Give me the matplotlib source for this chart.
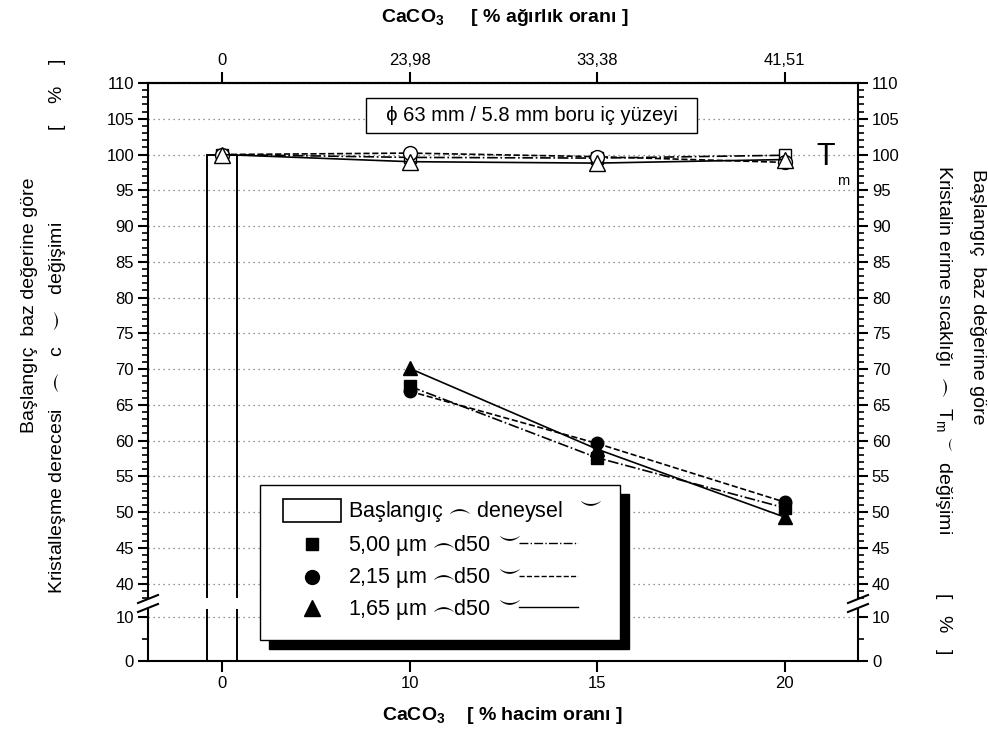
import numpy as np
import matplotlib
matplotlib.use('Agg')
from matplotlib import pyplot as plt
from matplotlib.lines import Line2D
from matplotlib.patches import Rectangle

plt.rcParams['font.family'] = ['Liberation Sans', 'DejaVu Sans']
plt.rcParams['mathtext.fontset'] = 'custom'
plt.rcParams['mathtext.rm'] = 'Liberation Sans'
plt.rcParams['mathtext.it'] = 'Liberation Sans'
plt.rcParams['mathtext.bf'] = 'Liberation Sans:bold'
plt.rcParams['mathtext.fallback'] = 'stix'

# data
vol_labels = ['0', '10', '15', '20']            # % hacim orani
wt_labels = ['0', '23,98', '33,38', '41,51']    # % agirlik orani
pos = np.arange(len(vol_labels))

# melting temperature change (open markers)
tm_500 = [100.0, 99.6, 99.5, 99.9]
tm_215 = [100.0, 100.2, 99.7, 98.9]
tm_165 = [100.0, 99.0, 98.8, 99.3]

# crystallinity change (filled markers), at 10, 15, 20
xc_500 = [67.6, 57.6, 50.6]
xc_215 = [66.9, 59.6, 51.4]
xc_165 = [70.1, 58.8, 49.3]

base_value = 100.0

W, H = 988, 742
FR = '$⌢$'   # frown/smile signs as drawn in the original
SM = '$⌣$'


def fx(x):
    return x / W


def fy(y):
    return 1 - y / H


fig = plt.figure(figsize=(W / 100, H / 100), dpi=100)
ax_hi = fig.add_axes([fx(148), fy(598), 710 / W, 515 / H])
ax_lo = fig.add_axes([fx(148), fy(661), 710 / W, 52 / H])

grid_kw = dict(color='0.45', linestyle=(0, (1, 3)), linewidth=0.9)
for ax in (ax_hi, ax_lo):
    ax.bar(0, base_value, width=0.16, fill=False, edgecolor='black', linewidth=1.4, zorder=2)
    ax.set_xlim(-0.395, 3.39)
    for s in ax.spines.values():
        s.set_linewidth(1.5)
    ax.tick_params(axis='y', which='both', direction='out', left=True, right=True,
                   labelleft=True, labelright=True, labelsize=12, width=1.5, pad=3)
    ax.tick_params(axis='y', which='major', length=7)
    ax.tick_params(axis='y', which='minor', length=4, width=1.2)
    ax.yaxis.grid(True, which='major', **grid_kw)
    ax.set_axisbelow(True)

# upper part
ax_hi.set_ylim(38, 110)
ax_hi.set_yticks(np.arange(40, 111, 5))
ax_hi.set_yticks(np.arange(38, 111, 1), minor=True)
ax_hi.spines['bottom'].set_visible(False)
ax_hi.tick_params(axis='x', which='both', bottom=False, labelbottom=False, top=False)

lw = 1.2
ax_hi.plot(pos, tm_500, '-.', color='black', lw=lw, marker='s', ms=9, mfc='white', mec='black', zorder=3)
ax_hi.plot(pos, tm_215, '--', color='black', lw=lw, marker='o', ms=10, mfc='white', mec='black', zorder=3)
ax_hi.plot(pos, tm_165, '-', color='black', lw=lw, marker='^', ms=11, mfc='white', mec='black', zorder=4)

ax_hi.plot(pos[1:], xc_500, '-.', color='black', lw=lw, marker='s', ms=8, mfc='black', mec='black', zorder=3)
ax_hi.plot(pos[1:], xc_215, '--', color='black', lw=lw, marker='o', ms=9, mfc='black', mec='black', zorder=3)
ax_hi.plot(pos[1:], xc_165, '-', color='black', lw=lw, marker='^', ms=10, mfc='black', mec='black', zorder=4)

ax_hi.text(1.65, 105.5, '  ϕ 63 mm / 5.8 mm boru iç yüzeyi  ', fontsize=14.5, ha='center', va='center',
           bbox=dict(boxstyle='square,pad=0.4', facecolor='white', edgecolor='black', linewidth=1.0),
           zorder=5)
ax_hi.text(3.22, 99.6, 'T', fontsize=22, ha='center', va='center')
fig.text(fx(843), fy(181), 'm', fontsize=10.5, ha='center', va='center')

top = ax_hi.secondary_xaxis('top')
top.set_xticks(pos)
top.set_xticklabels(wt_labels, fontsize=12)
top.tick_params(direction='out', length=8, width=1.5, pad=3)
top.spines['top'].set_linewidth(1.5)

# lower part
ax_lo.set_ylim(0, 11.8)
ax_lo.set_yticks([0, 10])
ax_lo.set_yticks([5], minor=True)
ax_lo.spines['top'].set_visible(False)
ax_lo.set_xticks(pos)
ax_lo.set_xticklabels(vol_labels, fontsize=12)
ax_lo.tick_params(axis='x', direction='out', length=8, width=1.5, pad=3, top=False)

# break marks
for xs in (148, 858):
    for yc in (599, 608):
        fig.add_artist(Line2D([fx(xs - 10), fx(xs + 10)], [fy(yc + 4), fy(yc - 4)],
                              color='black', lw=1.5, transform=fig.transFigure))

# axis titles
fig.text(fx(505), fy(18), r'CaCO$_\mathbf{3}$     [ % ağırlık oranı ]', fontsize=14,
         fontweight='bold', ha='center', va='center',
         family=['Liberation Sans Narrow', 'Liberation Sans'])
fig.text(fx(503), fy(716), r'CaCO$_\mathbf{3}$    [ % hacim oranı ]', fontsize=14,
         fontweight='bold', ha='center', va='center')

fig.text(fx(30), fy(305), 'Başlangıç  baz değerine göre', fontsize=14, rotation=90,
         ha='center', va='center')
fig.text(fx(57), fy(326), 'Kristalleşme derecesi   ' + FR + '   c   ' + SM +
         '   değişimi                 [    %    ]',
         fontsize=14, rotation=90, ha='center', va='center')
fig.text(fx(977), fy(297), 'Başlangıç  baz değerine göre', fontsize=14, rotation=-90,
         ha='center', va='center')
fig.text(fx(943), fy(410), 'Kristalin erime sıcaklığı  ' + FR + '  T$_{\\mathrm{m}}$ $^{⌣}$  '
         'değişimi           [   %   ]',
         fontsize=14, rotation=-90, ha='center', va='center')

# legend (drawn by hand, with shadow)
fig.add_artist(Rectangle((fx(269), fy(649)), 360 / W, 155 / H, facecolor='black',
                         edgecolor='black', transform=fig.transFigure, zorder=5))
fig.add_artist(Rectangle((fx(260), fy(640)), 360 / W, 155 / H, facecolor='white',
                         edgecolor='black', lw=1.0, transform=fig.transFigure, zorder=6))
fig.add_artist(Rectangle((fx(283), fy(522)), 58 / W, 23 / H, facecolor='white',
                         edgecolor='black', lw=1.2, transform=fig.transFigure, zorder=7))
fig.text(fx(348), fy(512), 'Başlangıç ' + FR + ' deneysel', fontsize=15.5, va='center', zorder=7)
fig.text(fx(590), fy(502), SM, fontsize=15.5, ha='center', va='center', zorder=7)

leg_rows = [('s', 9, '-.', '5,00 µm ' + FR + 'd50', 544),
            ('o', 10, '--', '2,15 µm ' + FR + 'd50', 577),
            ('^', 11, '-', '1,65 µm ' + FR + 'd50', 608)]
for mk, ms, ls, lab, yr in leg_rows:
    fig.add_artist(Line2D([fx(312)], [fy(yr)], marker=mk, ms=ms, color='black', ls='none',
                          transform=fig.transFigure, zorder=7))
    fig.text(fx(348), fy(yr + 1), lab, fontsize=15.5, va='center', zorder=7)
    fig.text(fx(509), fy(yr - 7), SM, fontsize=15.5, ha='center', va='center', zorder=7)
    fig.add_artist(Line2D([fx(519), fx(578)], [fy(yr - 1), fy(yr - 1)], ls=ls, lw=1.0,
                          color='black', transform=fig.transFigure, zorder=7))

plt.savefig('out.png', dpi=100)
